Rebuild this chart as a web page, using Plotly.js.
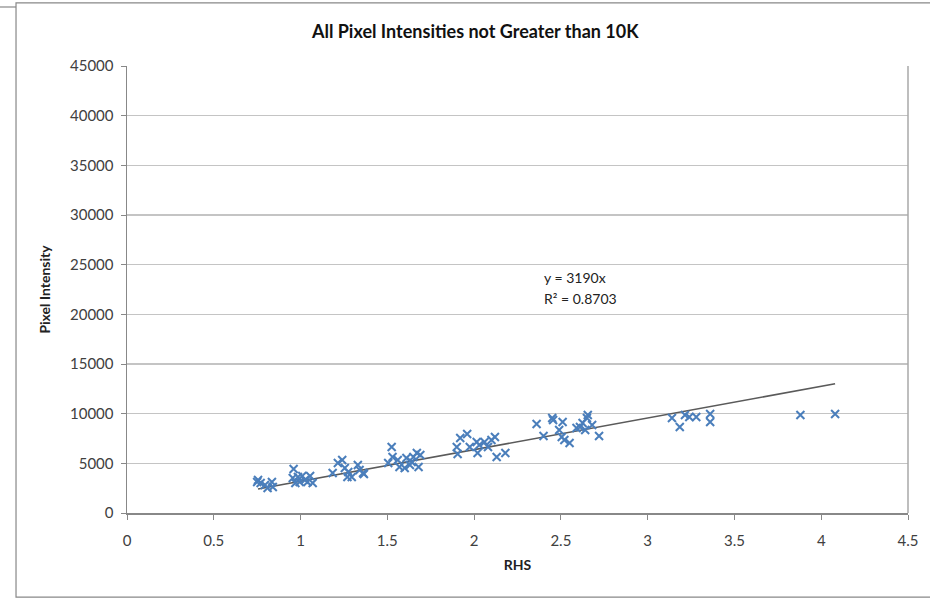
<!DOCTYPE html>
<html>
<head>
<meta charset="utf-8">
<script src="https://cdn.plot.ly/plotly-3.0.1.min.js"></script>
<style>html,body{margin:0;padding:0;background:#fff;}#chart{width:930px;height:601px;}</style>
</head>
<body>
<div id="chart"></div>
<script>
// Data
const rhs = [0.755,0.77,0.75,0.795,0.835,0.84,0.81,
  0.96,0.955,0.985,1.01,1.025,1.055,1.07,1.04,0.995,0.97,
  1.185,1.215,1.24,1.255,1.275,1.295,1.33,1.34,1.36,1.27,1.365,
  1.525,1.53,1.505,1.56,1.57,1.60,1.61,1.64,1.65,1.67,1.69,1.68,1.63,
  1.90,1.92,1.96,1.905,1.975,2.015,2.03,2.06,2.02,2.08,2.10,2.12,2.13,2.18,
  2.36,2.40,2.45,2.455,2.49,2.51,2.505,2.52,2.55,2.59,2.61,2.625,2.64,2.65,2.655,2.68,2.72,
  3.14,3.185,3.215,3.24,3.28,3.36,3.36,3.88,4.08];
const intensity = [3320,3020,3120,2820,3120,2620,2520,
  4430,3520,3620,3720,3320,3720,3020,3120,3120,3020,
  4030,5030,5340,4530,4130,3620,4830,4330,4030,3620,3930,
  6640,5640,5030,5340,4630,4530,5540,5130,5640,6040,5840,4630,4830,
  6640,7550,7950,5940,6640,7150,6840,7150,6040,6640,7350,7650,5640,6040,
  8960,7750,9560,9360,8360,9160,7650,7350,7050,8560,8660,9060,8360,9560,9860,8860,7750,
  9560,8660,9860,9660,9660,9960,9160,9860,9960];
const slope = 3190;
const trendX = [0.755, 4.08];
const trendY = trendX.map(v => slope * v);
const xTicks = [0,0.5,1,1.5,2,2.5,3,3.5,4,4.5];
const xTickText = ['0','0.5','1','1.5','2','2.5','3','3.5','4','4.5'];
const yTicks = [0,5000,10000,15000,20000,25000,30000,35000,40000,45000];
const yTickText = ['0','5000','10000','15000','20000','25000','30000','35000','40000','45000'];

const FONT = 'Lato, "Open Sans", sans-serif';

const traces = [
  {x: trendX, y: trendY, mode: 'lines', type: 'scatter',
   line: {color: '#5a5a5a', width: 1.6}, hoverinfo: 'skip', showlegend: false},
  {x: rhs, y: intensity, mode: 'markers', type: 'scatter',
   marker: {symbol: 'x-thin-open', size: 8, line: {color: '#4a7ebb', width: 2}, color: '#4a7ebb'},
   showlegend: false}
];

const layout = {
  width: 930, height: 601,
  margin: {l: 127, r: 22, t: 66, b: 88},
  paper_bgcolor: '#ffffff', plot_bgcolor: '#ffffff',
  font: {family: FONT, size: 15, color: '#404040'},
  title: {text: 'All Pixel Intensities not Greater than 10K', font: {family: FONT, size: 18, color: '#111', weight: 'bold'},
    x: 0.511, xanchor: 'center', y: 0.948, yanchor: 'middle'},
  xaxis: {range: [0, 4.5], tickvals: xTicks, ticktext: xTickText, showgrid: false, zeroline: false,
    showline: true, linecolor: '#888888', linewidth: 1.5, ticks: 'outside', ticklen: 5, tickcolor: '#888888',
    tickfont: {family: FONT, size: 15, color: '#404040'}, ticklabelstandoff: 8,
    title: {text: 'RHS', font: {family: FONT, size: 14, color: '#222', weight: 'bold'}, standoff: 12}},
  yaxis: {range: [0, 45000], tickvals: yTicks, ticktext: yTickText, showgrid: true, gridcolor: '#c4c4c4', gridwidth: 1.5, zeroline: false,
    showline: true, linecolor: '#888888', linewidth: 1.5, ticks: 'outside', ticklen: 5, tickcolor: '#888888',
    tickfont: {family: FONT, size: 15, color: '#404040'}, ticklabelstandoff: 4,
    title: {text: 'Pixel Intensity', font: {family: FONT, size: 14, color: '#222', weight: 'bold'}, standoff: 16}},
  shapes: [
    {type: 'line', xref: 'paper', yref: 'paper', x0: 1, x1: 1, y0: 0, y1: 1, line: {color: '#a8a8a8', width: 1.5}},
    {type: 'rect', xref: 'paper', yref: 'paper', x0: -0.1421, x1: 1.04, y0: -0.188, y1: 1.141,
      line: {color: '#888888', width: 1.2}, fillcolor: 'rgba(0,0,0,0)'},
    {type: 'line', xref: 'paper', yref: 'paper', x0: -0.165, x1: -0.1421, y0: 1.132, y1: 1.132,
      line: {color: '#888888', width: 1.2}}
  ],
  annotations: [
    {xref: 'paper', yref: 'paper', x: (575-127)/781, y: (513-277)/447, text: 'y = 3190x', showarrow: false,
      font: {family: FONT, size: 14, color: '#222'}, xanchor: 'center', yanchor: 'middle'},
    {xref: 'paper', yref: 'paper', x: (580-127)/781, y: (513-298)/447, text: 'R² = 0.8703', showarrow: false,
      font: {family: FONT, size: 14, color: '#222'}, xanchor: 'center', yanchor: 'middle'}
  ]
};

Plotly.newPlot('chart', traces, layout, {displayModeBar: false, staticPlot: true});
</script>
</body>
</html>
